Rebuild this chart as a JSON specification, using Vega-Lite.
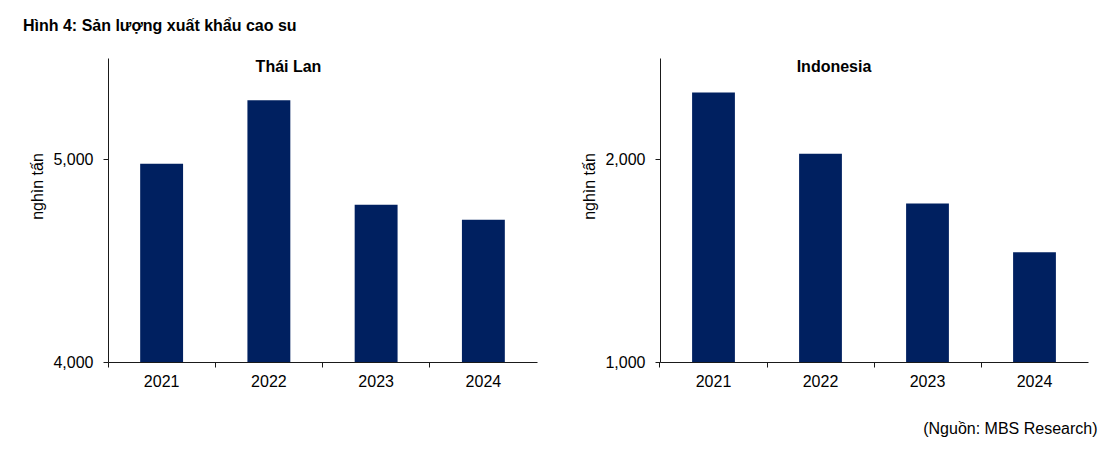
{
  "$schema": "https://vega.github.io/schema/vega-lite/v6.json",
  "background": "white",
  "padding": {"left": 22, "top": 18, "right": 10, "bottom": 10},
  "title": {"text": "Hình 4: Sản lượng xuất khẩu cao su", "anchor": "start", "frame": "bounds", "fontSize": 16, "fontWeight": "bold", "font": "Liberation Sans", "color": "#000000", "offset": 24, "dx": -7},
  "config": {
    "font": "Liberation Sans",
    "view": {"stroke": null},
    "axis": {"labelFont": "Liberation Sans", "titleFont": "Liberation Sans", "labelColor": "#000000", "titleColor": "#000000", "domainColor": "#1a1a1a", "tickColor": "#1a1a1a", "grid": false, "labelFontSize": 16, "titleFontSize": 16, "titleFontWeight": "normal"}
  },
  "data": {"values": [
    {"country": "Thái Lan", "year": "2021", "value": 4978},
    {"country": "Thái Lan", "year": "2022", "value": 5292},
    {"country": "Thái Lan", "year": "2023", "value": 4776},
    {"country": "Thái Lan", "year": "2024", "value": 4702},
    {"country": "Indonesia", "year": "2021", "value": 2330},
    {"country": "Indonesia", "year": "2022", "value": 2028},
    {"country": "Indonesia", "year": "2023", "value": 1782},
    {"country": "Indonesia", "year": "2024", "value": 1542}
  ]},
  "spacing": 44,
  "hconcat": [
    {
      "width": 429,
      "height": 304,
      "title": {"text": "Thái Lan", "offset": -17, "fontSize": 16, "fontWeight": "bold", "dx": -34, "color": "#000000"},
      "transform": [{"filter": "datum.country === 'Thái Lan'"}],
      "mark": {"type": "bar", "color": "#002060", "clip": true},
      "encoding": {
        "x": {"field": "year", "type": "ordinal", "scale": {"paddingInner": 0.6, "paddingOuter": 0.3}, "axis": {"title": null, "labelAngle": 0, "bandPosition": -0.75, "tickSize": 5, "labelPadding": 6}},
        "y": {"field": "value", "type": "quantitative", "scale": {"domain": [4000, 5500], "nice": false, "zero": false}, "axis": {"title": "nghìn tấn", "values": [4000, 5000], "format": ",.0f", "tickSize": 5, "labelPadding": 10, "titlePadding": 7, "titleY": 128}}
      }
    },
    {
      "width": 428,
      "height": 304,
      "title": {"text": "Indonesia", "offset": -17, "fontSize": 16, "fontWeight": "bold", "dx": -40, "color": "#000000"},
      "transform": [{"filter": "datum.country === 'Indonesia'"}],
      "mark": {"type": "bar", "color": "#002060", "clip": true},
      "encoding": {
        "x": {"field": "year", "type": "ordinal", "scale": {"paddingInner": 0.6, "paddingOuter": 0.3}, "axis": {"title": "(Nguồn: MBS Research)", "titleFontSize": 16, "titleAlign": "right", "titleX": 437, "titleY": 58, "labelAngle": 0, "bandPosition": -0.75, "tickSize": 5, "labelPadding": 6}},
        "y": {"field": "value", "type": "quantitative", "scale": {"domain": [1000, 2500], "nice": false, "zero": false}, "axis": {"title": "nghìn tấn", "values": [1000, 2000], "format": ",.0f", "tickSize": 5, "labelPadding": 10, "titlePadding": 7, "titleY": 128}}
      }
    }
  ]
}
